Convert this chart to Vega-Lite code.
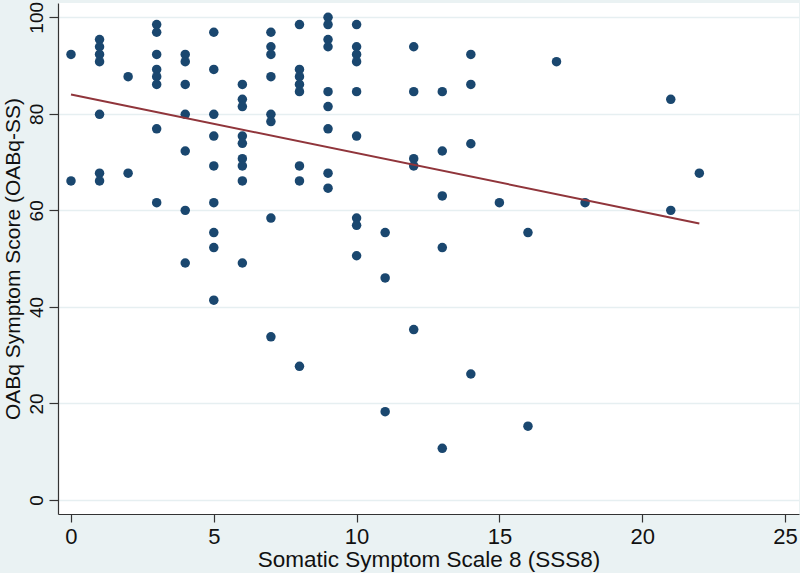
{
  "$schema": "https://vega.github.io/schema/vega-lite/v6.json",
  "width": 741,
  "height": 511,
  "autosize": {"type": "none"},
  "padding": {"left": 58, "top": 3, "right": 1, "bottom": 59},
  "background": "#eaf2f3",
  "config": {
    "view": {"fill": "white", "stroke": null},
    "font": "Liberation Sans",
    "axis": {"labelFont": "Liberation Sans", "titleFont": "Liberation Sans", "titleFontWeight": "normal", "labelColor": "#111", "titleColor": "#111", "domainColor": "#333", "tickColor": "#333", "domainWidth": 1.2, "tickWidth": 1.2}
  },
  "datasets": {
    "pts": [
      {"sss8": 0, "oabq": 92.3}, {"sss8": 0, "oabq": 66.1},
      {"sss8": 1, "oabq": 95.4}, {"sss8": 1, "oabq": 93.9}, {"sss8": 1, "oabq": 92.3}, {"sss8": 1, "oabq": 90.8}, {"sss8": 1, "oabq": 79.9}, {"sss8": 1, "oabq": 67.7}, {"sss8": 1, "oabq": 66.1},
      {"sss8": 2, "oabq": 87.7}, {"sss8": 2, "oabq": 67.7},
      {"sss8": 3, "oabq": 98.5}, {"sss8": 3, "oabq": 96.9}, {"sss8": 3, "oabq": 92.3}, {"sss8": 3, "oabq": 89.2}, {"sss8": 3, "oabq": 87.7}, {"sss8": 3, "oabq": 86.1}, {"sss8": 3, "oabq": 76.9}, {"sss8": 3, "oabq": 61.6},
      {"sss8": 4, "oabq": 92.3}, {"sss8": 4, "oabq": 90.8}, {"sss8": 4, "oabq": 86.1}, {"sss8": 4, "oabq": 79.9}, {"sss8": 4, "oabq": 72.3}, {"sss8": 4, "oabq": 60.0}, {"sss8": 4, "oabq": 49.1},
      {"sss8": 5, "oabq": 96.9}, {"sss8": 5, "oabq": 89.2}, {"sss8": 5, "oabq": 79.9}, {"sss8": 5, "oabq": 75.4}, {"sss8": 5, "oabq": 69.2}, {"sss8": 5, "oabq": 61.6}, {"sss8": 5, "oabq": 55.4}, {"sss8": 5, "oabq": 52.3}, {"sss8": 5, "oabq": 41.4},
      {"sss8": 6, "oabq": 86.1}, {"sss8": 6, "oabq": 83.0}, {"sss8": 6, "oabq": 81.5}, {"sss8": 6, "oabq": 75.4}, {"sss8": 6, "oabq": 73.9}, {"sss8": 6, "oabq": 70.7}, {"sss8": 6, "oabq": 69.2}, {"sss8": 6, "oabq": 66.1}, {"sss8": 6, "oabq": 49.1},
      {"sss8": 7, "oabq": 96.9}, {"sss8": 7, "oabq": 93.9}, {"sss8": 7, "oabq": 92.3}, {"sss8": 7, "oabq": 87.7}, {"sss8": 7, "oabq": 79.9}, {"sss8": 7, "oabq": 78.4}, {"sss8": 7, "oabq": 58.4}, {"sss8": 7, "oabq": 33.8},
      {"sss8": 8, "oabq": 98.5}, {"sss8": 8, "oabq": 89.2}, {"sss8": 8, "oabq": 87.7}, {"sss8": 8, "oabq": 86.1}, {"sss8": 8, "oabq": 84.6}, {"sss8": 8, "oabq": 69.2}, {"sss8": 8, "oabq": 66.1}, {"sss8": 8, "oabq": 27.7},
      {"sss8": 9, "oabq": 100.0}, {"sss8": 9, "oabq": 98.5}, {"sss8": 9, "oabq": 95.4}, {"sss8": 9, "oabq": 93.9}, {"sss8": 9, "oabq": 84.6}, {"sss8": 9, "oabq": 81.5}, {"sss8": 9, "oabq": 76.9}, {"sss8": 9, "oabq": 67.7}, {"sss8": 9, "oabq": 64.6},
      {"sss8": 10, "oabq": 98.5}, {"sss8": 10, "oabq": 93.9}, {"sss8": 10, "oabq": 92.3}, {"sss8": 10, "oabq": 90.8}, {"sss8": 10, "oabq": 84.6}, {"sss8": 10, "oabq": 75.4}, {"sss8": 10, "oabq": 58.4}, {"sss8": 10, "oabq": 56.9}, {"sss8": 10, "oabq": 50.6},
      {"sss8": 11, "oabq": 55.4}, {"sss8": 11, "oabq": 46.0}, {"sss8": 11, "oabq": 18.3},
      {"sss8": 12, "oabq": 93.9}, {"sss8": 12, "oabq": 84.6}, {"sss8": 12, "oabq": 70.7}, {"sss8": 12, "oabq": 69.2}, {"sss8": 12, "oabq": 35.3},
      {"sss8": 13, "oabq": 84.6}, {"sss8": 13, "oabq": 72.3}, {"sss8": 13, "oabq": 63.0}, {"sss8": 13, "oabq": 52.3}, {"sss8": 13, "oabq": 10.7},
      {"sss8": 14, "oabq": 92.3}, {"sss8": 14, "oabq": 86.1}, {"sss8": 14, "oabq": 73.8}, {"sss8": 14, "oabq": 26.1},
      {"sss8": 15, "oabq": 61.6},
      {"sss8": 16, "oabq": 55.4}, {"sss8": 16, "oabq": 15.3},
      {"sss8": 17, "oabq": 90.8},
      {"sss8": 18, "oabq": 61.6},
      {"sss8": 21, "oabq": 83.0}, {"sss8": 21, "oabq": 60.0},
      {"sss8": 22, "oabq": 67.7}
    ],
    "fit": [
      {"sss8": 0, "oabq": 84.0},
      {"sss8": 22, "oabq": 57.3}
    ]
  },
  "encoding": {
    "x": {
      "field": "sss8", "type": "quantitative",
      "scale": {"domain": [-0.455, 25.49], "nice": false, "zero": false},
      "axis": {"title": "Somatic Symptom Scale 8 (SSS8)", "values": [0, 5, 10, 15, 20, 25], "grid": false, "tickSize": 8, "labelFontSize": 22, "labelPadding": 4, "titleFontSize": 22.5, "titlePadding": 1, "labelFlush": false}
    },
    "y": {
      "field": "oabq", "type": "quantitative",
      "scale": {"domain": [-2.9, 102.96], "nice": false, "zero": false},
      "axis": {"title": "OABq Symptom Score (OABq-SS)", "values": [0, 20, 40, 60, 80, 100], "grid": true, "gridColor": "#e6eff1", "gridWidth": 1.6, "tickSize": 9, "labelAngle": 270, "labelAlign": "center", "labelBaseline": "bottom", "labelFontSize": 19, "labelPadding": 3, "titleFontSize": 21, "titlePadding": 4, "labelFlush": false}
    }
  },
  "layer": [
    {
      "data": {"name": "pts"},
      "mark": {"type": "point", "filled": true, "shape": "circle", "size": 90, "color": "#1a476f", "opacity": 1}
    },
    {
      "data": {"name": "fit"},
      "mark": {"type": "line", "color": "#90353b", "strokeWidth": 2}
    }
  ]
}
